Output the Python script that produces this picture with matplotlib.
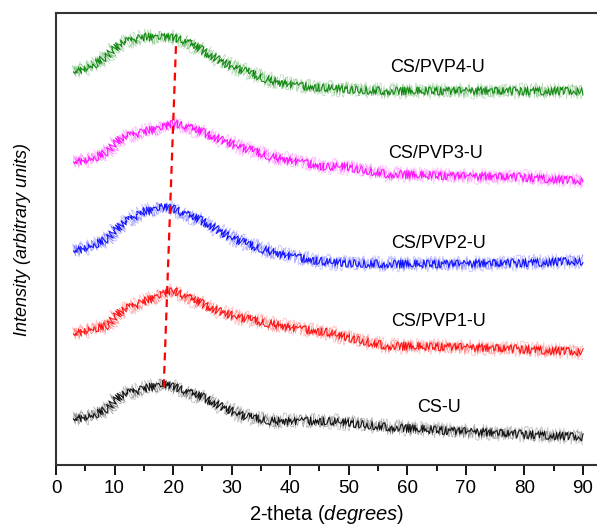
import matplotlib

matplotlib.use("Agg")
import matplotlib.pyplot as plt

plt.rcParams["font.family"] = ["Liberation Sans", "DejaVu Sans"]
plt.rcParams["mathtext.fontset"] = "custom"
plt.rcParams["mathtext.rm"] = "Liberation Sans"
plt.rcParams["mathtext.it"] = "Liberation Sans:italic"

# 2-theta positions (degrees) at which the envelope was read
two_theta = [3.0, 6.3, 8.7, 10.9, 14.8, 18.3, 20.0, 22.2, 25.7, 29.1,
             32.6, 37.0, 41.6, 46.2, 48.5, 56.5, 67.8, 79.0, 90.0]

# stacked intensities (arbitrary units, offsets included)
cs_pvp4 = [393, 399, 409, 421, 428, 428, 427, 424, 412, 401,
           393, 384, 379, 377, 376, 374, 374, 374, 374]
cs_pvp3 = [303, 306, 313, 326, 333, 338, 341, 339, 331, 323,
           316, 308, 303, 298, 299, 291, 289, 288, 284]
cs_pvp2 = [214, 219, 226, 239, 253, 258, 256, 251, 242, 230,
           221, 213, 207, 203, 202, 201, 201, 202, 204]
cs_pvp1 = [131, 136, 139, 153, 163, 171, 174, 169, 159, 151,
           146, 141, 136, 133, 129, 119, 118, 116, 113]
cs_u = [46, 49, 56, 69, 76, 81, 78, 74, 66, 56,
        48, 44, 44, 44, 43, 38, 34, 31, 28]

series = [
    (cs_u, "black", "CS-U", 65.4, 58),
    (cs_pvp1, "#ff0000", "CS/PVP1-U", 65.4, 144),
    (cs_pvp2, "#0000ff", "CS/PVP2-U", 65.4, 221),
    (cs_pvp3, "#ff00ff", "CS/PVP3-U", 64.9, 311),
    (cs_pvp4, "#008000", "CS/PVP4-U", 65.1, 398),
]

# peak shift guide (bottom peak -> top peak)
peak_x = [18.4, 20.5]
peak_y = [78, 421]

# noise look: (sketch scale, length, randomness, linewidth, alpha)
noise_layers = [
    (8, 0.5, 3, 0.6, 0.25),
    (6, 0.4, 8, 0.5, 0.4),
    (4, 0.6, 4, 0.8, 0.9),
]

fig = plt.figure(figsize=(5.97, 5.27), dpi=100)
ax = fig.add_axes([56 / 597, 62 / 527, 541 / 597, 452 / 527])

for vals, color, name, lx, ly in series:
    for sc, ln, rnd, lw, a in noise_layers:
        line, = ax.plot(two_theta, vals, color=color, linewidth=lw, alpha=a)
        line.set_sketch_params(scale=sc, length=ln, randomness=rnd)
    ax.text(lx, ly, name, fontsize=13, ha="center", va="center")

ax.plot(peak_x, peak_y, color="#ff0000", linewidth=1.6, linestyle=(0, (3.5, 2.5)))

ax.set_xlim(0, 92.4)
ax.set_ylim(0, 452)
ax.set_xticks(range(0, 91, 10))
ax.set_xticks(range(5, 91, 10), minor=True)
ax.set_yticks([])
ax.tick_params(axis="x", which="major", length=7, width=1.3, labelsize=13.5, pad=4)
ax.tick_params(axis="x", which="minor", length=4, width=1.3)

for side in ["left", "bottom", "top"]:
    ax.spines[side].set_linewidth(1.5)
    ax.spines[side].set_color("#333333")
ax.spines["right"].set_visible(False)

ax.set_xlabel("2-theta ($\\mathit{degrees}$)", fontsize=14.5, labelpad=4)
ax.set_ylabel("Intensity (arbitrary units)", fontsize=13, fontstyle="italic", labelpad=18)

fig.savefig("out.png", dpi=100)
